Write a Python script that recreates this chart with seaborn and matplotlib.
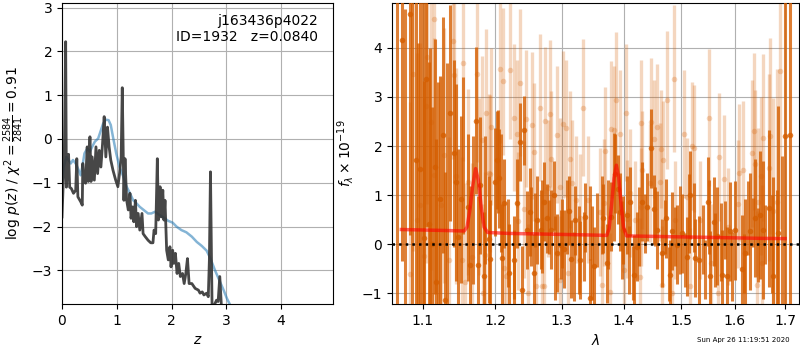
import numpy as np
import seaborn as sns
import matplotlib
matplotlib.use('Agg')
import matplotlib.pyplot as plt
from matplotlib.ticker import ScalarFormatter, NullLocator

# p(z) panel: redshift grid and log p(z) (dark) + prior-like curve (blue)
pz_z = [0.00, 0.02, 0.04, 0.067, 0.08, 0.10, 0.12, 0.14, 0.17, 0.21, 0.25, 0.27, 0.29,
        0.34, 0.37, 0.38, 0.40, 0.43, 0.46, 0.48, 0.51, 0.53, 0.55, 0.59, 0.62, 0.65,
        0.68, 0.71, 0.74, 0.77, 0.80, 0.83, 0.86, 0.89, 0.93, 0.98, 1.02, 1.05, 1.08,
        1.10, 1.13, 1.15, 1.18, 1.21, 1.24, 1.26, 1.29, 1.31, 1.34, 1.36, 1.39, 1.42,
        1.46, 1.48, 1.52, 1.57, 1.62, 1.66, 1.68, 1.71, 1.74, 1.76, 1.79, 1.81, 1.84,
        1.86, 1.88, 1.91, 1.94, 1.97, 1.99, 2.02, 2.04, 2.07, 2.10, 2.13, 2.16, 2.20,
        2.23, 2.26, 2.29, 2.32, 2.37, 2.43, 2.49, 2.52, 2.56, 2.59, 2.64, 2.67, 2.69,
        2.71, 2.73, 2.74, 2.82, 2.85, 2.88, 2.91, 2.93]
pz_logp = [-1.78, -1.09, -0.60, 2.22, -1.10, -0.48, -0.35, -1.10, -1.13, -1.24, -1.17,
           -0.45, -1.32, -1.43, -1.51, -0.56, -0.94, -1.01, -0.18, -0.97, 0.05, -0.97,
           -0.41, -0.94, -0.18, -0.79, -0.26, -0.64, -0.11, 0.51, -0.41, 0.27, -0.18,
           -0.48, -0.71, -0.94, -1.09, -0.79, -0.41, 1.17, -1.40, -0.45, -1.40, -1.62,
           -1.24, -1.81, -1.55, -1.89, -1.40, -2.00, -1.70, -2.08, -1.70, -2.16, -2.23,
           -2.31, -2.37, -2.37, -2.08, -2.16, -0.45, -1.85, -1.09, -1.78, -1.17, -1.85,
           -1.40, -2.54, -2.76, -2.46, -2.92, -2.54, -2.84, -2.61, -3.07, -2.84, -3.14,
           -3.07, -3.30, -3.07, -2.73, -3.30, -3.30, -3.41, -3.45, -3.52, -3.49, -3.56,
           -3.52, -3.60, -2.76, -0.75, -2.92, -3.90, -3.68, -3.71, -3.14, -3.83, -4.20]

prior_z = [0.00, 0.03, 0.08, 0.12, 0.16, 0.20, 0.25, 0.29, 0.34, 0.37, 0.41, 0.46, 0.51,
           0.55, 0.60, 0.66, 0.71, 0.75, 0.80, 0.85, 0.89, 0.93, 0.99, 1.05, 1.12, 1.18,
           1.24, 1.30, 1.36, 1.42, 1.48, 1.57, 1.63, 1.70, 1.76, 1.85, 1.94, 2.02, 2.09,
           2.18, 2.27, 2.37, 2.46, 2.55, 2.64, 2.71, 2.79, 2.87, 2.95, 3.01, 3.07]
prior_logp = [-0.98, -0.64, -0.41, -0.48, -0.56, -0.48, -0.56, -0.67, -0.83, -0.64, -0.33,
              -0.22, -0.29, -0.18, -0.06, 0.01, 0.20, 0.35, 0.44, 0.43, 0.32, 0.05, -0.33,
              -0.64, -0.86, -1.09, -1.24, -1.40, -1.47, -1.55, -1.61, -1.70, -1.70, -1.66,
              -1.72, -1.79, -1.87, -1.91, -2.00, -2.08, -2.13, -2.23, -2.35, -2.44, -2.55,
              -2.73, -2.99, -3.22, -3.45, -3.64, -3.79]

# spectrum panel (G141), flux in 1e-19 units; points with a visible marker
dark_wave = [1.0722, 1.0830, 1.0904, 1.0969, 1.1022, 1.1044, 1.1080, 1.1124, 1.1159, 1.1182,
             1.1236, 1.1267, 1.1303, 1.1371, 1.1417, 1.1453, 1.1476, 1.1518, 1.1610, 1.1638,
             1.1722, 1.1750, 1.1788, 1.1835, 1.1906, 1.1930, 1.2002, 1.2026, 1.2060, 1.2099,
             1.2123, 1.2196, 1.2269, 1.2318, 1.2358, 1.2392, 1.2427, 1.2467, 1.2517, 1.2567,
             1.2617, 1.2683, 1.2719, 1.2770, 1.2838, 1.2874, 1.2925, 1.2993, 1.3029, 1.3113,
             1.3144, 1.3213, 1.3292, 1.3372, 1.3442, 1.3507, 1.3659, 1.3725, 1.3796, 1.3863,
             1.3902, 1.3946, 1.3991, 1.4058, 1.4115, 1.4172, 1.4228, 1.4314, 1.4400, 1.4469,
             1.4515, 1.4574, 1.4661, 1.4738, 1.4797, 1.4838, 1.4927, 1.5017, 1.5108, 1.5168,
             1.5259, 1.5321, 1.5493, 1.5537, 1.5599, 1.5662, 1.5756, 1.5851, 1.5914, 1.6010,
             1.6139, 1.6204, 1.6301, 1.6399, 1.6498, 1.6564, 1.6664, 1.6764, 1.6865, 1.7000,
             1.7103]
dark_flux = [4.16, 4.68, 1.71, 1.54, 0.12, 3.36, 0.41, 0.00, 1.58, -0.76, 0.93, 2.22, -1.13,
             2.68, 1.85, 1.26, 0.14, 0.92, 0.75, -0.42, 2.52, -0.42, 1.20, -0.64, 0.10, -0.30,
             1.27, 1.71, 1.34, -0.28, 0.83, -0.59, -0.32, 0.83, 2.08, -0.93, 2.32, 0.29, 0.66,
             -0.59, 0.49, 0.30, 0.87, 0.53, 0.30, 1.00, -0.18, -0.01, -0.10, 0.68, -0.30, 0.49,
             -0.32, 0.55, -1.10, -0.45, 0.53, -0.39, 0.56, 1.44, 1.12, 0.66, 0.29, 0.60, 0.87,
             -0.62, -0.05, 0.87, 0.76, 1.95, 0.71, 0.29, -0.18, 0.53, -0.62, 0.27, -0.01, 0.22,
             -0.25, 1.00, -0.28, -0.32, 0.87, -0.64, 0.46, 0.16, -0.62, -0.64, 0.26, 0.28,
             -0.51, -0.18, 0.26, 0.53, 0.60, 0.29, 0.73, -0.64, 0.22, 2.20, 2.22]
dark_err = [4.5, 4.5, 3.5, 3.8, 3.2, 3.0, 3.3, 2.8, 2.6, 2.9, 2.5, 2.4, 2.6, 2.2, 1.9, 2.0,
            1.8, 1.7, 1.5, 1.6, 1.5, 1.4, 1.4, 1.3, 1.3, 1.2, 1.1, 1.0, 1.0, 1.1, 0.9, 1.0,
            0.9, 0.9, 0.8, 0.9, 0.7, 0.8, 0.9, 0.8, 0.9, 0.8, 0.8, 0.7, 0.8, 0.7, 0.8, 0.7,
            0.8, 0.7, 0.8, 0.7, 0.8, 0.7, 0.8, 0.8, 0.7, 0.8, 0.7, 0.8, 0.7, 0.8, 0.7, 0.8,
            0.7, 0.8, 0.7, 0.8, 0.7, 0.8, 0.7, 0.8, 0.7, 0.8, 0.7, 0.8, 0.8, 0.8, 0.8, 0.9,
            0.8, 0.9, 0.9, 0.9, 0.9, 1.0, 0.9, 1.0, 1.0, 1.0, 1.1, 1.1, 1.2, 1.2, 1.3, 1.4,
            1.6, 2.0, 2.6, 5.0, 5.0]

# dark bars whose marker is hidden in the crowd
dark2_wave = [1.0660, 1.0770, 1.0860, 1.0940, 1.1000, 1.1100, 1.1200, 1.1330, 1.1550, 1.1680,
              1.1860, 1.2040, 1.2090, 1.2180, 1.2280, 1.2530, 1.2592, 1.2700, 1.2795, 1.2890,
              1.3002, 1.3080, 1.3185, 1.3264, 1.3344, 1.3452, 1.3478, 1.3559, 1.3641, 1.3745,
              1.3833, 1.3973, 1.4085, 1.4160, 1.4255, 1.4369, 1.4544, 1.4720, 1.4779, 1.4897,
              1.4987, 1.5077, 1.5150, 1.5229, 1.5400, 1.5440, 1.5520, 1.5620, 1.5730, 1.5820,
              1.5946, 1.6180, 1.6250, 1.6365, 1.6460, 1.6600, 1.6731, 1.6832, 1.6933]
dark2_flux = [1.50, 0.80, 2.00, 0.60, 1.80, 1.00, 0.50, 1.20, 1.80, 0.70, 0.90, 1.68, 1.05,
              0.02, -0.42, 0.36, 0.49, 0.36, 0.36, -0.28, 0.22, 0.56, -0.45, -0.12, -0.05,
              0.43, -0.18, 0.29, 0.60, 0.40, 1.17, 0.09, -0.32, -0.59, 0.36, 0.43, 0.56, 0.36,
              -0.60, 0.16, 0.29, -0.32, 0.63, 0.54, 0.09, -0.51, 0.56, -0.12, 0.05, 0.29,
              -0.45, -0.39, 0.53, 0.45, -0.01, 0.20, 0.00, -0.20, 0.00]
dark2_err = [4.0, 4.0, 3.8, 3.5, 3.2, 3.0, 2.8, 2.5, 1.6, 1.5, 1.3, 1.05, 1.2, 0.9, 0.7, 0.8,
             0.55, 0.95, 0.55, 0.85, 0.7, 0.75, 0.7, 0.9, 0.7, 0.75, 0.95, 0.75, 0.8, 0.9, 1.1,
             0.8, 0.7, 0.55, 0.8, 0.6, 0.6, 0.55, 0.55, 0.6, 0.9, 0.55, 0.8, 0.7, 0.7, 0.6,
             0.75, 0.75, 0.8, 0.6, 0.7, 0.6, 0.75, 0.5, 0.75, 0.6, 1.0, 1.3, 1.8]

light_wave = [1.0838, 1.0873, 1.0925, 1.0969, 1.1013, 1.1044, 1.1057, 1.1110, 1.1146, 1.1150,
              1.1245, 1.1281, 1.1349, 1.1403, 1.1417, 1.1453, 1.1532, 1.1541, 1.1578, 1.1610,
              1.1671, 1.1741, 1.1774, 1.1812, 1.1826, 1.1850, 1.1868, 1.1916, 1.1930, 1.1945,
              1.2065, 1.2108, 1.2123, 1.2152, 1.2210, 1.2269, 1.2318, 1.2338, 1.2368, 1.2427,
              1.2447, 1.2477, 1.2542, 1.2567, 1.2607, 1.2668, 1.2688, 1.2729, 1.2744, 1.2790,
              1.2821, 1.2838, 1.2925, 1.2966, 1.2976, 1.3019, 1.3071, 1.3092, 1.3123, 1.3160,
              1.3218, 1.3292, 1.3330, 1.3421, 1.3615, 1.3635, 1.3670, 1.3697, 1.3779, 1.3790,
              1.3846, 1.3868, 1.3935, 1.4001, 1.4035, 1.4055, 1.4103, 1.4188, 1.4285, 1.4291,
              1.4302, 1.4314, 1.4457, 1.4469, 1.4515, 1.4574, 1.4620, 1.4649, 1.4661, 1.4679,
              1.4743, 1.4838, 1.4868, 1.4897, 1.5047, 1.5108, 1.5168, 1.5198, 1.5230, 1.5351,
              1.5505, 1.5549, 1.5674, 1.5693, 1.5787, 1.5863, 1.6073, 1.6093, 1.6170, 1.6333,
              1.6385, 1.6399, 1.6431, 1.6464, 1.6517, 1.6530, 1.6564, 1.6664, 1.6697, 1.6764,
              1.6832, 1.6899]
light_flux = [-0.60, 3.47, 0.49, 0.80, -0.23, 2.82, 3.81, 2.48, 4.59, 1.41, 0.80, 1.81, -0.32,
              4.14, 3.44, 1.39, -0.32, 3.70, -0.76, 1.27, -0.25, 3.47, 1.17, 2.13, -0.99, -0.22,
              2.68, 1.46, 1.44, 2.39, 3.57, 3.32, -0.49, -0.64, 3.54, 2.58, 2.25, 0.47, 3.29,
              0.71, 2.56, -0.99, 2.42, 1.88, -0.86, 2.78, -0.85, -0.85, 2.52, 1.14, 2.66, 1.73,
              2.23, 1.17, -0.72, 2.44, 2.36, -0.59, 1.73, 1.24, 0.91, 0.53, 2.78, 0.91, 0.66,
              -0.83, 0.85, 1.90, -0.98, 2.34, 2.32, 2.93, 2.25, -0.52, 2.68, 0.51, 1.05, 0.49,
              -0.66, 2.46, 0.76, 1.52, 1.25, 2.49, 2.15, 2.38, 1.26, 1.94, -0.83, 1.71, 2.94,
              -0.99, 3.37, 0.49, 2.24, 0.97, -0.86, 2.00, 1.95, 0.49, 2.58, -0.39, -0.99, 1.78,
              1.33, 0.36, 0.82, 1.46, 1.51, 1.85, 2.30, 1.64, -0.83, 0.86, 1.39, -0.39, 2.17,
              1.56, 2.20, 0.68, 0.87, 3.52]
light_err = [3.5, 3.6, 3.4, 3.3, 3.2, 3.2, 3.0, 3.0, 3.0, 2.8, 2.6, 2.6, 2.5, 2.4, 2.2, 2.2,
             2.1, 2.0, 2.0, 1.9, 1.9, 1.8, 1.8, 1.7, 1.8, 1.7, 1.7, 1.6, 1.6, 1.6, 1.5, 1.5,
             1.5, 1.5, 1.4, 1.5, 1.5, 1.4, 1.5, 1.4, 1.4, 1.4, 1.5, 1.4, 1.4, 1.5, 1.3, 1.4,
             1.5, 1.4, 1.5, 1.4, 1.4, 1.4, 1.3, 1.5, 1.4, 1.3, 1.4, 1.3, 1.3, 1.3, 1.4, 1.3,
             1.3, 1.2, 1.3, 1.3, 1.2, 1.4, 1.3, 1.4, 1.3, 1.2, 1.4, 1.2, 1.3, 1.2, 1.2, 1.3,
             1.2, 1.2, 1.2, 1.3, 1.2, 1.3, 1.2, 1.2, 1.2, 1.2, 1.4, 1.2, 1.5, 1.2, 1.3, 1.2,
             1.2, 1.3, 1.3, 1.2, 1.4, 1.2, 1.2, 1.3, 1.3, 1.2, 1.3, 1.4, 1.4, 1.5, 1.6, 1.5,
             1.5, 1.5, 1.6, 1.6, 1.7, 1.9, 2.0, 2.3, 2.7, 3.2]

model_wave = [1.072, 1.100, 1.130, 1.156, 1.160, 1.164, 1.168, 1.172, 1.176, 1.180, 1.184,
              1.189, 1.220, 1.260, 1.300, 1.340, 1.372, 1.376, 1.380, 1.384, 1.388, 1.392,
              1.396, 1.400, 1.405, 1.450, 1.500, 1.550, 1.600, 1.650, 1.700]
model_flux = [0.30, 0.29, 0.28, 0.27, 0.35, 0.70, 1.20, 1.54, 1.30, 0.75, 0.35, 0.24, 0.22,
              0.21, 0.20, 0.19, 0.18, 0.32, 0.80, 1.35, 1.61, 1.35, 0.80, 0.35, 0.17, 0.16,
              0.15, 0.14, 0.13, 0.12, 0.115]

wave_ticks = [1.1, 1.2, 1.3, 1.4, 1.5, 1.6, 1.7]
g141_color = (0.835, 0.369, 0.0)

fig = plt.figure(figsize=(8, 3.5), dpi=100)
ax1 = fig.add_axes([0.0775, 0.131, 0.339, 0.86])
ax2 = fig.add_axes([0.49, 0.131, 0.509, 0.86])

# left: p(z)
sns.lineplot(x=prior_z, y=prior_logp, ax=ax1, color='tab:blue', alpha=0.55, lw=1.8,
             estimator=None, sort=False)
sns.lineplot(x=pz_z, y=pz_logp, ax=ax1, color='0.2', alpha=0.9, lw=2,
             estimator=None, sort=False)
ax1.set_xlim(0, 4.95)
ax1.set_ylim(-3.77, 3.1)
ax1.set_xticks([0, 1, 2, 3, 4])
ax1.grid()
ax1.set_xlabel('$z$')
ax1.set_ylabel(r'log $p(z)$ / $\chi^2=\frac{2584}{2841}=0.91$')
ax1.text(0.945, 0.965, 'j163436p4022\nID=1932   z=0.0840', transform=ax1.transAxes,
         ha='right', va='top', fontsize=10)

# right: 1D spectrum
ax2.errorbar(light_wave, light_flux, yerr=light_err, fmt='o', color=g141_color,
             alpha=0.25, ms=4, mew=0, elinewidth=2.4, zorder=2)
ax2.errorbar(dark2_wave, dark2_flux, yerr=dark2_err, fmt='none', color=g141_color,
             alpha=0.78, elinewidth=2.2, zorder=3)
ax2.errorbar(dark_wave, dark_flux, yerr=dark_err, fmt='o', color=g141_color,
             alpha=0.8, ms=4, mew=0, elinewidth=2.2, zorder=3)
sns.lineplot(x=model_wave, y=model_flux, ax=ax2, color='red', alpha=0.6, lw=2.5,
             estimator=None, sort=False, zorder=4)
ax2.axhline(0, color='k', ls=':', lw=1.8, zorder=5)
ax2.set_xscale('log')
ax2.set_xlim(1.060, 1.729)
ax2.set_ylim(-1.22, 4.91)
ax2.set_xticks(wave_ticks)
ax2.xaxis.set_major_formatter(ScalarFormatter())
ax2.xaxis.set_minor_locator(NullLocator())
ax2.set_yticks([-1, 0, 1, 2, 3, 4])
ax2.grid()
ax2.set_xlabel(r'$\lambda$')
ax2.set_ylabel(r'$f_\lambda\times10^{-19}$')

fig.text(0.9875, 0.029, 'Sun Apr 26 11:19:51 2020', ha='right', va='center', fontsize=5)

fig.savefig('out.png', dpi=100)
